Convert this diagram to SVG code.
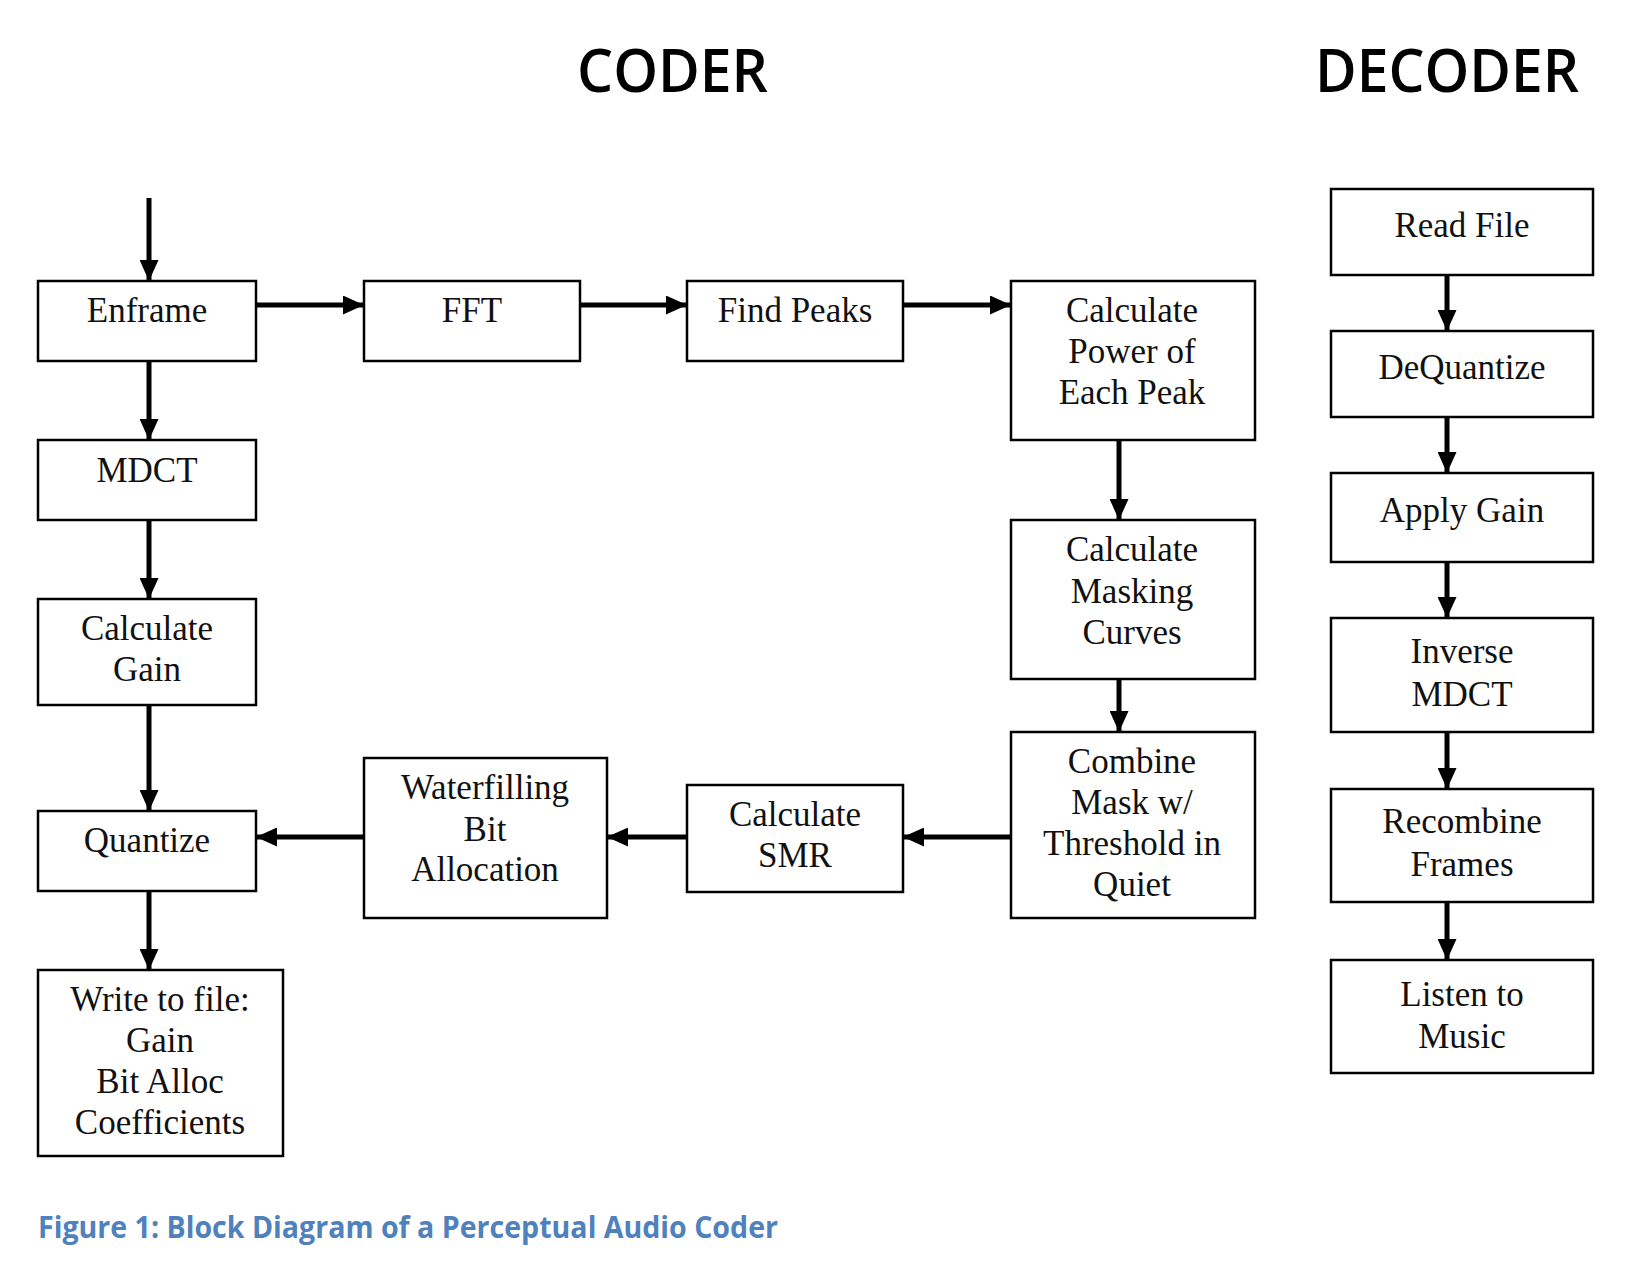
<svg xmlns="http://www.w3.org/2000/svg" width="1644" height="1280" viewBox="0 0 1644 1280">
<style>
.box{fill:#fff;stroke:#000;stroke-width:2.5}
.lbl{font-family:"Liberation Serif","Times New Roman",serif;font-size:35px;fill:#111;text-anchor:middle}
.hdr{font-family:"Open Sans",Lato,"Liberation Sans",sans-serif;font-size:60px;font-weight:600;fill:#000}
.cap{font-family:"Open Sans",Lato,"Liberation Sans",sans-serif;font-size:30px;font-weight:bold;fill:#4F81BD}
.conn line{stroke:#000;stroke-width:5;marker-end:url(#ah)}
</style>
<defs>
<marker id="ah" markerUnits="userSpaceOnUse" markerWidth="21" markerHeight="19" refX="21" refY="9.5" orient="auto">
<path d="M0,0 L21,9.5 L0,19 z" fill="#000"/>
</marker>
</defs>
<rect width="1644" height="1280" fill="#fff"/>
<text class="hdr" x="577" y="92" textLength="191" lengthAdjust="spacingAndGlyphs">CODER</text>
<text class="hdr" x="1315" y="92" textLength="264" lengthAdjust="spacingAndGlyphs">DECODER</text>

<g id="connectors" class="conn">
<line x1="149" y1="198" x2="149" y2="281"/>
<line x1="256" y1="305" x2="364" y2="305"/>
<line x1="580" y1="305" x2="687" y2="305"/>
<line x1="903" y1="305" x2="1011" y2="305"/>
<line x1="1119" y1="440" x2="1119" y2="520"/>
<line x1="1119" y1="679" x2="1119" y2="732"/>
<line x1="1011" y1="837" x2="903" y2="837"/>
<line x1="687" y1="837" x2="607" y2="837"/>
<line x1="364" y1="837" x2="256" y2="837"/>
<line x1="149" y1="361" x2="149" y2="440"/>
<line x1="149" y1="520" x2="149" y2="599"/>
<line x1="149" y1="705" x2="149" y2="811"/>
<line x1="149" y1="891" x2="149" y2="970"/>
<line x1="1447" y1="275" x2="1447" y2="331"/>
<line x1="1447" y1="417" x2="1447" y2="473"/>
<line x1="1447" y1="562" x2="1447" y2="618"/>
<line x1="1447" y1="732" x2="1447" y2="789"/>
<line x1="1447" y1="902" x2="1447" y2="960"/>
</g>

<g id="enframe"><rect class="box" x="38" y="281" width="218" height="80"/><text class="lbl" x="147" y="322">Enframe</text></g>
<g id="fft"><rect class="box" x="364" y="281" width="216" height="80"/><text class="lbl" x="472" y="322">FFT</text></g>
<g id="findpeaks"><rect class="box" x="687" y="281" width="216" height="80"/><text class="lbl" x="795" y="322">Find Peaks</text></g>
<g id="calcpower"><rect class="box" x="1011" y="281" width="244" height="159"/><text class="lbl" x="1132" y="322">Calculate</text><text class="lbl" x="1132" y="363">Power of</text><text class="lbl" x="1132" y="404">Each Peak</text></g>
<g id="masking"><rect class="box" x="1011" y="520" width="244" height="159"/><text class="lbl" x="1132" y="561">Calculate</text><text class="lbl" x="1132" y="603">Masking</text><text class="lbl" x="1132" y="644">Curves</text></g>
<g id="combine"><rect class="box" x="1011" y="732" width="244" height="186"/><text class="lbl" x="1132" y="773">Combine</text><text class="lbl" x="1132" y="814">Mask w/</text><text class="lbl" x="1132" y="855">Threshold in</text><text class="lbl" x="1132" y="896">Quiet</text></g>
<g id="smr"><rect class="box" x="687" y="785" width="216" height="107"/><text class="lbl" x="795" y="826">Calculate</text><text class="lbl" x="795" y="867">SMR</text></g>
<g id="waterfilling"><rect class="box" x="364" y="758" width="243" height="160"/><text class="lbl" x="485" y="799">Waterfilling</text><text class="lbl" x="485" y="841">Bit</text><text class="lbl" x="485" y="881">Allocation</text></g>
<g id="quantize"><rect class="box" x="38" y="811" width="218" height="80"/><text class="lbl" x="147" y="852">Quantize</text></g>
<g id="writefile"><rect class="box" x="38" y="970" width="245" height="186"/><text class="lbl" x="160" y="1011">Write to file:</text><text class="lbl" x="160" y="1052">Gain</text><text class="lbl" x="160" y="1093">Bit Alloc</text><text class="lbl" x="160" y="1134">Coefficients</text></g>
<g id="mdct"><rect class="box" x="38" y="440" width="218" height="80"/><text class="lbl" x="147" y="482">MDCT</text></g>
<g id="calcgain"><rect class="box" x="38" y="599" width="218" height="106"/><text class="lbl" x="147" y="640">Calculate</text><text class="lbl" x="147" y="681">Gain</text></g>

<g id="readfile"><rect class="box" x="1331" y="189" width="262" height="86"/><text class="lbl" x="1462" y="237">Read File</text></g>
<g id="dequantize"><rect class="box" x="1331" y="331" width="262" height="86"/><text class="lbl" x="1462" y="379">DeQuantize</text></g>
<g id="applygain"><rect class="box" x="1331" y="473" width="262" height="89"/><text class="lbl" x="1462" y="522">Apply Gain</text></g>
<g id="inversemdct"><rect class="box" x="1331" y="618" width="262" height="114"/><text class="lbl" x="1462" y="663">Inverse</text><text class="lbl" x="1462" y="706">MDCT</text></g>
<g id="recombine"><rect class="box" x="1331" y="789" width="262" height="113"/><text class="lbl" x="1462" y="833">Recombine</text><text class="lbl" x="1462" y="876">Frames</text></g>
<g id="listen"><rect class="box" x="1331" y="960" width="262" height="113"/><text class="lbl" x="1462" y="1006">Listen to</text><text class="lbl" x="1462" y="1048">Music</text></g>

<text class="cap" x="38" y="1238" textLength="740" lengthAdjust="spacingAndGlyphs">Figure 1: Block Diagram of a Perceptual Audio Coder</text>
</svg>
